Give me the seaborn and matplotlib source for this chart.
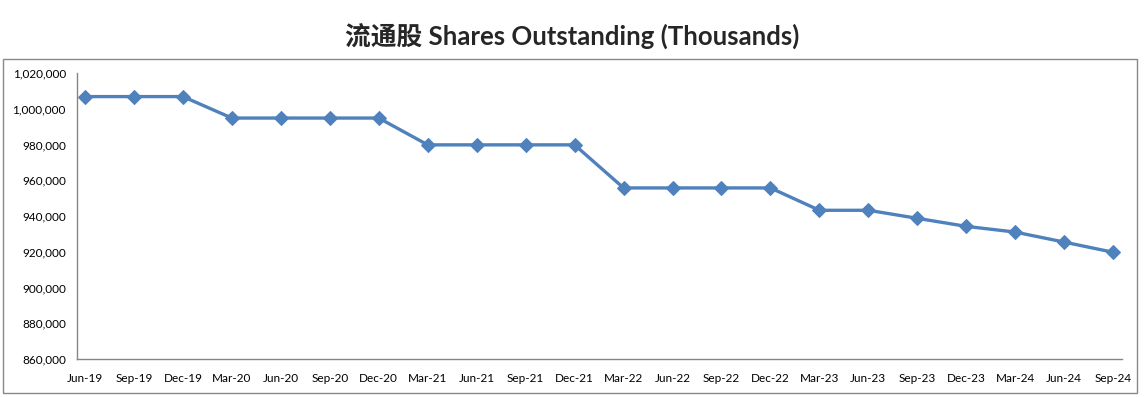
import numpy as np
import pandas as pd
import seaborn as sns
from matplotlib import pyplot as plt
from matplotlib.patches import Rectangle
from matplotlib.ticker import FuncFormatter

quarters = ["Jun-19", "Sep-19", "Dec-19", "Mar-20", "Jun-20", "Sep-20", "Dec-20",
            "Mar-21", "Jun-21", "Sep-21", "Dec-21", "Mar-22", "Jun-22", "Sep-22",
            "Dec-22", "Mar-23", "Jun-23", "Sep-23", "Dec-23", "Mar-24", "Jun-24", "Sep-24"]
shares = [1006800, 1006800, 1006800, 994800, 994800, 994800, 994800,
          979800, 979800, 979800, 979800, 955700, 955700, 955700,
          955700, 943200, 943200, 938700, 934200, 931000, 925400, 919700]
y_ticks = [860000, 880000, 900000, 920000, 940000, 960000, 980000, 1000000, 1020000]

df = pd.DataFrame({"pos": np.arange(len(quarters)), "quarter": quarters, "shares": shares})

sns.set_style("white")
plt.rcParams["font.family"] = ["Lato", "Noto Sans CJK SC", "DejaVu Sans"]

fig = plt.figure(figsize=(11.45, 3.97), dpi=100)
ax = fig.add_axes([77 / 1145, 1 - 359 / 397, (1122 - 77) / 1145, (359 - 73) / 397])

sns.lineplot(data=df, x="pos", y="shares", ax=ax, color="#4F81BD", linewidth=2.4,
             marker="D", markersize=7, markeredgecolor="#4F81BD", sort=False)

# category axis: labels under the points, tick marks slightly to the left
offset = 0.163
ax.set_xlim(-offset, len(quarters) - 1 + 0.18)
ax.set_xticks(df["pos"])
ax.set_xticklabels(quarters)
ax.set_xticks(df["pos"] - offset, minor=True)
ax.tick_params(axis="x", which="major", length=0, pad=10, labelsize=8.5)
ax.tick_params(axis="x", which="minor", length=5, width=1, color="#868686", direction="out")

ax.set_ylim(860000, 1020000)
ax.set_yticks(y_ticks)
ax.yaxis.set_major_formatter(FuncFormatter(lambda v, p: f"{v:,.0f}"))
ax.tick_params(axis="y", length=5, width=1, color="#868686", direction="out", pad=3, labelsize=8.5)
ax.tick_params(axis="both", colors="#868686", labelcolor="black")

for side in ["top", "right"]:
    ax.spines[side].set_visible(False)
for side in ["left", "bottom"]:
    ax.spines[side].set_color("#868686")
    ax.spines[side].set_linewidth(1)

ax.set_xlabel("")
ax.set_ylabel("")
ax.grid(False)

# chart border
fig.patches.append(Rectangle((3 / 1145, 1 - 393 / 397), 1134 / 1145, 334 / 397,
                             transform=fig.transFigure, fill=False, edgecolor="#888888", linewidth=1))

fig.text(0.5, 1 - 37 / 397, "流通股 Shares Outstanding (Thousands)", ha="center", va="center",
         fontsize=18.5, fontweight="bold")

fig.savefig("out.png", dpi=100)
